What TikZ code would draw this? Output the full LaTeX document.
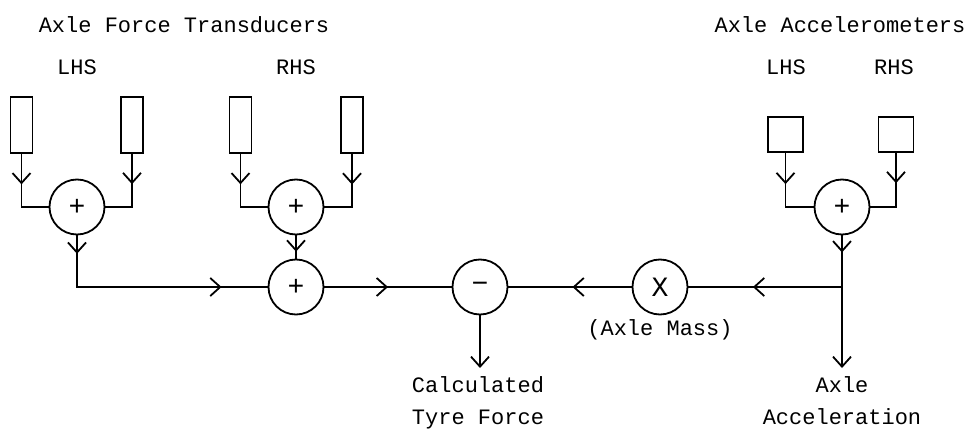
\documentclass[tikz,border=0pt]{standalone}
\usepackage{fontspec}
\setmainfont{Liberation Mono}
\usetikzlibrary{positioning,arrows.meta,decorations.markings}
\tikzset{
  caja/.style={rectangle, draw, line width=1.8pt, inner sep=0pt,
    minimum width=22pt, minimum height=56pt},
  cajac/.style={caja, minimum width=35pt, minimum height=35pt},
  sumador/.style={circle, draw, line width=1.8pt, minimum size=55pt,
    inner sep=0pt, font=\fontsize{28}{32}\selectfont},
  etq/.style={font=\fontsize{22}{32}\selectfont, inner sep=0pt, anchor=base},
  salida/.style={font=\fontsize{22}{32}\selectfont, align=center,
    inner sep=8pt, anchor=north},
  punta/.tip={Straight Barb[length=10pt,width=18pt]},
  linea/.style={line width=1.8pt},
  flecha/.style={linea, postaction={decorate},
    decoration={markings, mark=at position #1 with {\arrow{punta}}}},
  flechados/.style 2 args={linea, postaction={decorate},
    decoration={markings, mark=at position #1 with {\arrow{punta}},
      mark=at position #2 with {\arrow{punta}}}},
}

\begin{document}
\begin{tikzpicture}[x=1pt, y=-1pt]
  \useasboundingbox (0,0) rectangle (972,433);
  % titulos
  \node[etq] (tfuerza) at (184,33) {Axle Force Transducers};
  \node[etq] (tacel) at (840,33) {Axle Accelerometers};
  \node[etq] (lhsa) at (77,75) {LHS};
  \node[etq] (rhsa) at (296,75) {RHS};
  \node[etq] (lhsb) at (786,75) {LHS};
  \node[etq] (rhsb) at (894,75) {RHS};
  % transductores
  \node[caja] (f1) at (21.5,125) {};
  \node[caja] (f2) at (132,125) {};
  \node[caja] (f3) at (240.5,125) {};
  \node[caja] (f4) at (352,125) {};
  \node[cajac] (a1) at (785.5,134.5) {};
  \node[cajac] (a2) at (896,134.5) {};
  % sumadores
  \node[sumador] (s1) at (77,207) {+};
  \node[sumador] (s2) at (296,207) {+};
  \node[sumador] (s3) at (842,207) {+};
  \node[sumador] (suma) at (296,287) {+};
  \node[sumador] (resta) at (480,287) {−};
  \node[sumador] (masa) at (660,287) {X};
  \node[etq, anchor=north, below=4pt of masa] (tmasa) {(Axle Mass)};
  \coordinate (junta) at (s3 |- masa);
  \node[salida] (tyre) at (478,368) {Calculated\\Tyre Force};
  \node[salida] (acel) at (842,368) {Axle\\Acceleration};
  % conexiones
  \draw[flecha=0.38] (f1.south) |- (s1.west);
  \draw[flecha=0.38] (f2.south) |- (s1.east);
  \draw[flecha=0.38] (f3.south) |- (s2.west);
  \draw[flecha=0.38] (f4.south) |- (s2.east);
  \draw[flecha=0.38] (a1.south) |- (s3.west);
  \draw[flecha=0.38] (a2.south) |- (s3.east);
  \draw[flecha=0.7] (s2.south) -- (suma.north);
  \draw[flechados={0.076}{0.81}] (s1.south) |- (suma.west);
  \draw[flecha=0.5] (suma.east) -- (resta.west);
  \draw[flecha=0.48] (masa.west) -- (resta.east);
  \draw[flecha=0.33] (s3.south) -- (junta);
  \draw[flecha=0.58] (junta) -- (masa.east);
  \draw[linea, -{punta}] (junta) -- (acel.north);
  \draw[linea, -{punta}] (resta.south) -- (resta |- tyre.north);
\end{tikzpicture}
\end{document}
